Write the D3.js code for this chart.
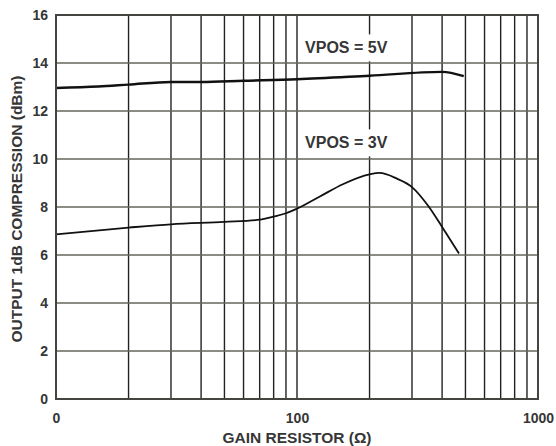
<!DOCTYPE html>
<html>
<head>
<meta charset="utf-8">
<title>Output 1dB compression vs gain resistor</title>
<script src="https://cdn.jsdelivr.net/npm/d3@7"></script>
<style>
	body { margin: 0; background: #fff; }
	text { font-family: "Liberation Sans", Arial, sans-serif; font-weight: bold; fill: #363636; }
</style>
</head>
<body>
<div id="chart"></div>
<script>
// gain resistor (ohm) and output 1dB compression (dBm)
var vpos5X = [10, 15, 20, 30, 40, 60, 100, 200, 400, 492];
var vpos5Y = [12.96, 13.02, 13.1, 13.21, 13.21, 13.26, 13.32, 13.47, 13.63, 13.45];

var vpos3X = [10, 20, 30, 50, 70, 80, 90, 100, 125, 155, 200, 220, 260, 300, 350, 400, 470];
var vpos3Y = [6.86, 7.14, 7.28, 7.38, 7.47, 7.6, 7.74, 7.93, 8.45, 8.95, 9.36, 9.42, 9.18, 8.83, 8.05, 7.17, 6.06];

var xTickValues = [10, 100, 1000];
var xTickLabels = ["0", "100", "1000"];
var yTickValues = [0, 2, 4, 6, 8, 10, 12, 14, 16];

var seriesLabels = ["VPOS = 5V", "VPOS = 3V"];
var labelX = [108, 108];
var labelY = [14.63, 10.67];

var width = 556, height = 446;
var margin = {top: 15, right: 18, bottom: 47, left: 56};

var svg = d3.select("#chart").append("svg")
	.attr("width", width)
	.attr("height", height);

var x = d3.scaleLog()
	.domain([10, 1000])
	.range([margin.left, width - margin.right]);

var y = d3.scaleLinear()
	.domain([0, 16])
	.range([height - margin.bottom, margin.top]);

// vertical grid (every 1..9 of each decade)
var xGrid = x.ticks();
svg.append("g")
	.selectAll("line")
	.data(xGrid)
	.enter().append("line")
	.attr("x1", function(d) { return x(d); })
	.attr("x2", function(d) { return x(d); })
	.attr("y1", y(0))
	.attr("y2", y(16))
	.attr("stroke", "#222")
	.attr("stroke-width", 1.4);

// horizontal grid
svg.append("g")
	.selectAll("line")
	.data(yTickValues)
	.enter().append("line")
	.attr("x1", x(10))
	.attr("x2", x(1000))
	.attr("y1", function(d) { return y(d); })
	.attr("y2", function(d) { return y(d); })
	.attr("stroke", "#66665c")
	.attr("stroke-width", 1.4);

// series labels on white boxes
var labels = svg.append("g");
seriesLabels.forEach(function(s, i) {
	var t = labels.append("text")
		.attr("x", x(labelX[i]))
		.attr("y", y(labelY[i]))
		.attr("dominant-baseline", "central")
		.style("font-size", "16px")
		.text(s);
	var b = t.node().getBBox();
	labels.insert("rect", "text")
		.attr("x", b.x - 3)
		.attr("y", b.y - 5)
		.attr("width", b.width + 6)
		.attr("height", b.height + 10)
		.attr("fill", "#fff");
});

// curves
var line = d3.line()
	.x(function(d) { return x(d[0]); })
	.y(function(d) { return y(d[1]); })
	.curve(d3.curveMonotoneX);

svg.append("path")
	.datum(d3.zip(vpos5X, vpos5Y))
	.attr("d", line)
	.attr("fill", "none")
	.attr("stroke", "#111")
	.attr("stroke-width", 2.4);

svg.append("path")
	.datum(d3.zip(vpos3X, vpos3Y))
	.attr("d", line)
	.attr("fill", "none")
	.attr("stroke", "#111")
	.attr("stroke-width", 1.8);

// frame
svg.append("rect")
	.attr("x", x(10))
	.attr("y", y(16))
	.attr("width", x(1000) - x(10))
	.attr("height", y(0) - y(16))
	.attr("fill", "none")
	.attr("stroke", "#444440")
	.attr("stroke-width", 2);

// axes
var yAxis = svg.append("g")
	.attr("transform", "translate(" + (margin.left - 8) + ",0)")
	.call(d3.axisLeft(y).tickValues(yTickValues).tickSize(0).tickPadding(0));
yAxis.select(".domain").remove();
yAxis.selectAll("text").style("font-size", "14px").attr("font-family", null);

var xAxis = svg.append("g")
	.attr("transform", "translate(0," + (height - margin.bottom + 14) + ")")
	.call(d3.axisBottom(x).tickValues(xTickValues)
		.tickFormat(function(d, i) { return xTickLabels[i]; })
		.tickSize(0).tickPadding(0));
xAxis.select(".domain").remove();
xAxis.selectAll("text").style("font-size", "14px").attr("font-family", null);

svg.selectAll(".tick text").attr("fill", null);

svg.append("text")
	.attr("x", x(100))
	.attr("y", 443)
	.attr("text-anchor", "middle")
	.style("font-size", "15.5px")
	.text("GAIN RESISTOR (Ω)");

svg.append("text")
	.attr("transform", "translate(22," + 209 + ") rotate(-90)")
	.attr("text-anchor", "middle")
	.style("font-size", "15.5px")
	.text("OUTPUT 1dB COMPRESSION (dBm)");
</script>
</body>
</html>
